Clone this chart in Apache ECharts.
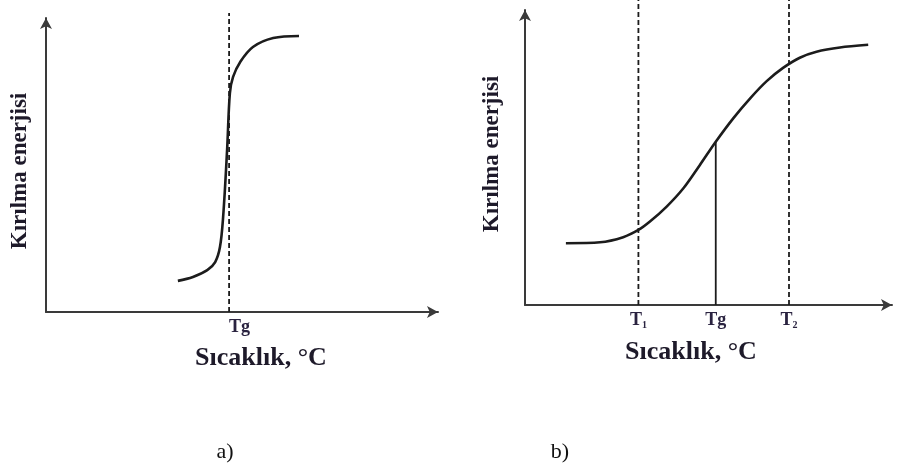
<!DOCTYPE html>
<html>
<head>
<meta charset="utf-8">
<script src="https://cdn.jsdelivr.net/npm/echarts@6/dist/echarts.min.js"></script>
<style>
html,body{margin:0;padding:0;background:#fff;}
#chart{width:897px;height:471px;}
</style>
</head>
<body>
<div id="chart"></div>
<script>
// Panel a) : sharp transition at Tg
var curveA_x = [33.2, 37.0, 40.6, 42.6, 43.8, 44.6, 45.6, 46.3, 47.1, 48.9, 52.1, 57.2, 63.7];
var curveA_y = [10.4, 11.7, 14.0, 16.7, 21.7, 31.8, 54.2, 73.2, 78.6, 83.6, 88.6, 91.6, 92.3];
var tgA = 46.1;

// Panel b) : gradual transition between T1 and T2
var curveB_x = [11.0, 20.2, 26.4, 30.5, 33.6, 38.1, 42.6, 47.0, 51.3, 56.0, 60.5, 65.0, 69.4, 73.9, 78.4, 84.7, 92.3];
var curveB_y = [20.6, 20.9, 22.6, 25.0, 27.8, 32.8, 38.9, 46.6, 54.4, 62.2, 68.8, 74.6, 79.0, 82.4, 84.4, 85.8, 86.7];
var t1B = 30.5, tgB = 51.3, t2B = 71.0;
var tgB_y = 54.4;

var tickNamesA = ['Tg'];
var tickNamesB = ['T1', 'Tg', 'T2'];

var yName = 'Kırılma enerjisi';
var xName = 'Sıcaklık, °C';
var panelNames = ['a)', 'b)'];

function pairs(xs, ys){ return xs.map(function(x,i){ return [x, ys[i]]; }); }

var SERIF = '"Liberation Serif", "Times New Roman", serif';
var AX = '#3a3a3a';
var INK = '#1c1c1c';

function axisBase(max, customVals, fmt, align){
  return {
    type: 'value', min: 0, max: max,
    splitLine: {show: false},
    axisLine: {show: true, symbol: ['none', 'arrow'], symbolSize: [9, 11], lineStyle: {color: AX, width: 2}},
    axisTick: {show: false},
    axisLabel: customVals ? {
      customValues: customVals, formatter: fmt, margin: 5, align: align || 'center',
      color: '#2a2340',
      rich: {
        t: {fontFamily: SERIF, fontWeight: 'bold', fontSize: 18, lineHeight: 20, color: '#2a2340'},
        s: {fontFamily: SERIF, fontWeight: 'bold', fontSize: 10, lineHeight: 10, verticalAlign: 'bottom', color: '#2a2340'}
      }
    } : {show: false}
  };
}

var tickValsB = [t1B, tgB, t2B];
function fmtB(v){
  var i = tickValsB.indexOf(v);
  var n = tickNamesB[i] || '';
  if (n.length === 2 && /\d/.test(n[1])) return '{t|' + n[0] + '}{s|' + n[1] + '}';
  return '{t|' + n + '}';
}
function fmtA(v){ return '{t|' + tickNamesA[0] + '}'; }

var option = {
  animation: false,
  backgroundColor: '#ffffff',
  grid: [
    {left: 46, top: 18, width: 392, height: 294},
    {left: 525, top: 10, width: 367, height: 295}
  ],
  xAxis: [
    Object.assign(axisBase(98.7, [tgA], fmtA, 'left'), {gridIndex: 0}),
    Object.assign(axisBase(98.7, tickValsB, fmtB, 'center'), {gridIndex: 1})
  ],
  yAxis: [
    Object.assign(axisBase(98.3), {gridIndex: 0}),
    Object.assign(axisBase(98.3), {gridIndex: 1})
  ],
  series: [
    {type: 'line', xAxisIndex: 0, yAxisIndex: 0, data: [[tgA, 0], [tgA, 100]], clip: false,
     showSymbol: false, lineStyle: {color: INK, width: 1.8, type: [5, 3]}},
    {type: 'line', xAxisIndex: 0, yAxisIndex: 0, data: pairs(curveA_x, curveA_y), smooth: 0.35,
     showSymbol: false, lineStyle: {color: INK, width: 2.6}},
    {type: 'line', xAxisIndex: 1, yAxisIndex: 1, data: [[t1B, 0], [t1B, 101.7]], clip: false,
     showSymbol: false, lineStyle: {color: INK, width: 1.8, type: [5, 3]}},
    {type: 'line', xAxisIndex: 1, yAxisIndex: 1, data: [[t2B, 0], [t2B, 101.7]], clip: false,
     showSymbol: false, lineStyle: {color: INK, width: 1.8, type: [5, 3]}},
    {type: 'line', xAxisIndex: 1, yAxisIndex: 1, data: [[tgB, 0], [tgB, tgB_y]],
     showSymbol: false, lineStyle: {color: INK, width: 1.8}},
    {type: 'line', xAxisIndex: 1, yAxisIndex: 1, data: pairs(curveB_x, curveB_y), smooth: 0.3,
     showSymbol: false, lineStyle: {color: INK, width: 2.6}}
  ],
  graphic: [
    {type: 'text', x: 20, y: 171, rotation: Math.PI / 2,
     style: {text: yName, font: 'bold 23px ' + SERIF, fill: '#1e1a2a', align: 'center', verticalAlign: 'middle'}},
    {type: 'text', x: 492, y: 154, rotation: Math.PI / 2,
     style: {text: yName, font: 'bold 23px ' + SERIF, fill: '#1e1a2a', align: 'center', verticalAlign: 'middle'}},
    {type: 'text', x: 261, y: 358,
     style: {text: xName, font: 'bold 26px ' + SERIF, fill: '#1e1a2a', align: 'center', verticalAlign: 'middle'}},
    {type: 'text', x: 691, y: 352,
     style: {text: xName, font: 'bold 26px ' + SERIF, fill: '#1e1a2a', align: 'center', verticalAlign: 'middle'}},
    {type: 'text', x: 225, y: 452,
     style: {text: panelNames[0], font: '22px ' + SERIF, fill: '#111', align: 'center', verticalAlign: 'middle'}},
    {type: 'text', x: 560, y: 452,
     style: {text: panelNames[1], font: '22px ' + SERIF, fill: '#111', align: 'center', verticalAlign: 'middle'}}
  ]
};

var chart = echarts.init(document.getElementById('chart'), null, {renderer: 'canvas'});
chart.setOption(option);
</script>
</body>
</html>
